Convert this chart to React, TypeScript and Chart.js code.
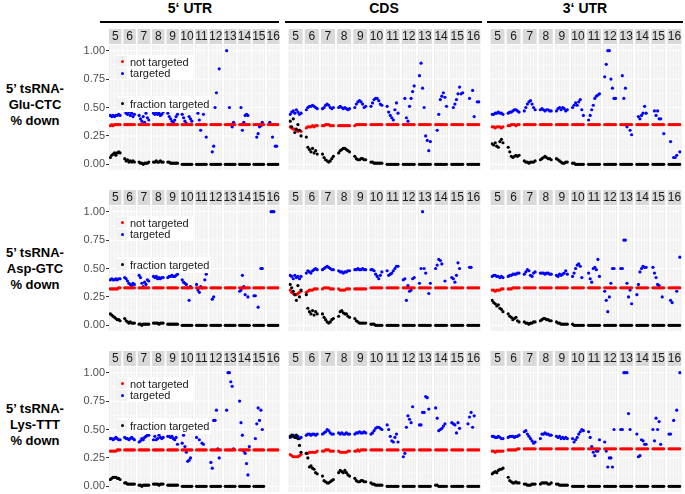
import React, { useEffect, useRef } from 'react';
import { Chart, registerables } from 'chart.js';
Chart.register(...registerables);

// ---------- labels ----------
const FACETS = ['5', '6', '7', '8', '9', '10', '11', '12', '13', '14', '15', '16'];
const COLUMN_TITLES = ['5\u2018 UTR', 'CDS', '3\u2018 UTR'];
const ROW_LABELS = [
  ['5\u2019 tsRNA-', 'Glu-CTC', '% down'],
  ['5\u2019 tsRNA-', 'Asp-GTC', '% down'],
  ['5\u2019 tsRNA-', 'Lys-TTT', '% down'],
];
const Y_TICKS = [0, 0.25, 0.5, 0.75, 1];
const Y_TICK_LABELS = ['0.00', '0.25', '0.50', '0.75', '1.00'];
const SERIES_NAMES = ['not targeted', 'targeted', 'fraction targeted'];

// ---------- data (8 values per facet, facets 5..16) ----------
type Series = (number | null)[];
const Z = null;

// Glu-CTC
const gluUtr5Not: Series = [
  .34,.35,.34,.35,.35,.35,.35,.35, .35,.35,.35,.35,.35,.35,.35,.35,
  .35,.35,.35,.35,.35,.35,.35,.35, .35,.35,.35,.35,.35,.35,.35,.35,
  .35,.35,.35,.35,.35,.35,.35,.35, .35,.35,.35,.35,.35,.35,.35,.35,
  .35,.35,.35,.35,.35,.35,.35,.35, .35,.35,.35,.35,.35,.35,.35,.35,
  .35,.35,.35,.35,.35,.35,.35,.35, .35,.35,.35,.35,.35,.35,.35,.35,
  .35,.35,.35,.35,.35,.35,.35,.35, .35,.35,.35,.35,.35,.35,.35,.35,
];
const gluUtr5Tgt: Series = [
  .43,.42,.43,.42,.43,.43,.44,.43,
  .47,.45,.44,.46,.43,.45,.42,.44,
  .43,.40,.38,.42,.37,.45,.41,.39,
  .45,.44,.46,.44,.45,.43,.44,.46,
  .45,.42,.40,.38,.37,.39,.42,.44,
  .44,.41,.38,.36,Z,.42,.40,.38,
  Z,.45,.39,.30,Z,.44,Z,.24,
  Z,.11,.16,.50,.63,Z,.84,Z,
  Z,1.00,Z,.50,Z,.33,.37,Z,
  Z,.50,.30,.37,.43,.44,.43,Z,
  Z,Z,.24,.27,.33,.34,.37,Z,
  Z,.37,Z,.24,Z,.16,.16,Z,
];
const gluUtr5Frac: Series = [
  .06,.08,.09,.10,.08,.10,.11,.10,
  .05,.03,.04,.02,.03,.02,.03,.02,
  .02,.01,.01,.00,.01,.01,.01,.02,
  .02,.02,.03,.02,.02,.03,.02,.02,
  .02,.02,.01,.01,.01,.01,.01,.01,
  0,0,0,0,0,0,0,0, 0,0,0,0,0,0,0,0, 0,0,0,0,0,0,0,0,
  0,0,0,0,0,0,0,0, 0,0,0,0,0,0,0,0, 0,0,0,0,0,0,0,0, 0,0,0,0,0,0,0,0,
];
const gluCdsNot: Series = [
  .33,.32,.31,.31,.30,.29,.30,.29,
  .32,.33,.33,.33,.34,.33,.34,.34,
  .34,.34,.35,.35,.35,.34,.34,.34,
  .34,.34,.34,.34,.34,.34,.34,.34,
  .34,.35,.35,.35,.35,.35,.35,.35,
  .35,.35,.35,.35,.35,.35,.35,.35, .35,.35,.35,.35,.35,.35,.35,.35,
  .35,.35,.35,.35,.35,.35,.35,.35, .35,.35,.35,.35,.35,.35,.35,.35,
  .35,.35,.35,.35,.35,.35,.35,.35, .35,.35,.35,.35,.35,.35,.35,.35,
  .35,.35,.35,.35,.35,.35,.35,.35,
];
const gluCdsTgt: Series = [
  .44,.46,.47,.45,.48,.46,.44,.45,
  .48,.50,.51,.51,.52,.51,.50,.49,
  .49,.50,.52,.53,.52,.50,.49,.50,
  .50,.51,.50,.49,.50,.49,.48,.49,
  .50,.53,.55,.56,.55,.53,.50,.51,
  .51,.54,.57,.58,.58,.56,.53,.52,
  .51,.46,.43,.41,.39,.48,.54,.45,
  Z,.58,.41,.38,.51,.58,.64,.69,
  .78,.89,.67,.50,.25,.21,.12,.20,
  Z,.30,.44,.57,.60,.63,.59,.51,
  Z,.50,.53,.57,.62,.68,.62,.63,
  Z,.58,Z,.65,.42,Z,.55,.55,
];
const gluCdsFrac: Series = [
  .38,.33,.40,.28,.31,.35,.30,.25,
  .24,.15,.13,.11,.14,.10,.12,.09,
  .09,.06,.04,.03,.02,.03,.05,.07,
  .10,.12,.13,.14,.14,.13,.12,.11,
  .07,.05,.04,.04,.05,.05,.04,.04,
  .02,.02,.01,.01,.01,.01,.01,.01,
  0,0,0,0,0,0,0,0, 0,0,0,0,0,0,0,0, 0,0,0,0,0,0,0,0,
  0,0,0,0,0,0,0,0, 0,0,0,0,0,0,0,0, 0,0,0,0,0,0,0,0,
];
const gluUtr3Not: Series = [
  .33,.33,.32,.33,.33,.33,.32,.33,
  .34,.34,.35,.35,.35,.34,.35,.35,
  .35,.35,.35,.35,.35,.35,.35,.35, .35,.35,.35,.35,.35,.35,.35,.35,
  .35,.35,.35,.35,.35,.35,.35,.35, .35,.35,.35,.35,.35,.35,.35,.35,
  .35,.35,.35,.35,.35,.35,.35,.35, .35,.35,.35,.35,.35,.35,.35,.35,
  .35,.35,.35,.35,.35,.35,.35,.35, .35,.35,.35,.35,.35,.35,.35,.35,
  .35,.35,.35,.35,.35,.35,.35,.35, .35,.35,.35,.35,.35,.35,.35,.35,
];
const gluUtr3Tgt: Series = [
  .44,.44,.45,.45,.46,.45,.45,.44,
  .45,.46,.46,.47,.48,.48,.47,.46,
  .47,.50,.53,.55,.56,.53,.50,.48,
  .48,.49,.48,.47,.48,.48,.47,.47,
  .47,.49,.50,.48,.50,.49,.47,.48,
  .50,.52,.54,.52,.55,.57,.48,.43,
  .39,.43,.48,.52,.58,.60,.61,.62,
  .77,.88,1.00,1.00,.75,.67,.58,.58,
  Z,.78,.58,.67,.33,Z,.30,.26,
  Z,.42,.40,.43,.45,.51,.45,Z,
  Z,.47,.43,.47,.40,.40,Z,.27,
  Z,.20,Z,.06,.06,.08,Z,.11,
];
const gluUtr3Frac: Series = [
  .18,.17,.19,.16,.15,.20,.22,.19,
  .15,.11,.07,.06,.07,.08,.07,.08,
  .03,.02,.02,.01,.02,.02,.02,.03,
  .04,.05,.06,.07,.06,.05,.05,.04,
  .05,.04,.03,.02,.01,.01,.02,.02,
  .01,.01,0,0,0,0,0,0,
  0,0,0,0,0,0,0,0, 0,0,0,0,0,0,0,0, 0,0,0,0,0,0,0,0,
  0,0,0,0,0,0,0,0, 0,0,0,0,0,0,0,0, 0,0,0,0,0,0,0,0,
];

// Asp-GTC
const aspUtr5Not: Series = [
  .32,.32,.32,.32,.32,.32,.33,.33,
  .33,.33,.33,.33,.33,.33,.33,.33, .33,.33,.33,.33,.33,.33,.33,.33,
  .33,.33,.33,.33,.33,.33,.33,.33, .33,.33,.33,.33,.33,.33,.33,.33,
  .33,.33,.33,.33,.33,.33,.33,.33, .33,.33,.33,.33,.33,.33,.33,.33,
  .33,.33,.33,.33,.33,.33,.33,.33, .33,.33,.33,.33,.33,.33,.33,.33,
  .33,.33,.33,.33,.33,.33,.33,.33, .33,.33,.33,.33,.33,.33,.33,.33,
  .33,.33,.33,.33,.33,.33,.33,.33,
];
const aspUtr5Tgt: Series = [
  .40,.41,.40,.40,.41,.40,.41,.41,
  .42,.41,.39,.37,.36,.35,.37,.36,
  .44,.42,.37,.34,.38,.36,.40,.39,
  .43,.42,.43,.41,.42,.41,.42,.42,
  .42,.43,.43,.44,.43,.43,.44,.45,
  .40,.38,.37,.36,.33,.22,.34,Z,
  .36,.31,.29,.34,.33,Z,.40,.45,
  Z,.23,.25,Z,Z,Z,Z,Z,
  Z,Z,Z,Z,Z,Z,Z,Z,
  .30,.31,.44,.34,.27,Z,.25,Z,
  .26,.26,Z,.16,Z,.50,.50,Z,
  Z,Z,1.00,1.00,1.00,Z,Z,Z,
];
const aspUtr5Frac: Series = [
  .10,.09,.08,.07,.06,.05,.05,.04,
  .06,.04,.03,.02,.03,.02,.02,.02,
  .01,.01,0,.01,.01,.01,.01,.01,
  .02,.02,.02,.02,.01,.02,.02,.02,
  .01,.01,.01,.01,.01,.01,.01,.01,
  0,0,0,0,0,0,0,0, 0,0,0,0,0,0,0,0, 0,0,0,0,0,0,0,0,
  0,0,0,0,0,0,0,0, 0,0,0,0,0,0,0,0, 0,0,0,0,0,0,0,0, 0,0,0,0,0,0,0,0,
];
const aspCdsNot: Series = [
  .31,.29,.28,.27,.27,.28,.29,.30,
  .29,.30,.31,.31,.31,.32,.32,.32,
  .32,.33,.33,.33,.33,.32,.32,.32,
  .32,.31,.31,.31,.31,.32,.32,.32,
  .32,.32,.32,.32,.32,.32,.32,.32,
  .33,.33,.33,.33,.33,.33,.33,.33, .33,.33,.33,.33,.33,.33,.33,.33,
  .33,.33,.33,.33,.33,.33,.33,.33, .33,.33,.33,.33,.33,.33,.33,.33,
  .33,.33,.33,.33,.33,.33,.33,.33, .33,.33,.33,.33,.33,.33,.33,.33,
  .33,.33,.33,.33,.33,.33,.33,.33,
];
const aspCdsTgt: Series = [
  .44,.43,.41,.44,.42,.43,.41,.43,
  .46,.48,.47,.46,.48,.49,.50,.49,
  .49,.50,.51,.52,.51,.50,.49,.49,
  .48,.47,.47,.46,.47,.47,.48,.48,
  .49,.49,.50,.49,.49,.50,.49,.49,
  .49,.49,.48,.45,.43,.41,.44,.47,
  .48,.44,.45,.46,.48,.50,.52,.52,
  .40,.41,.22,.35,.30,.31,.41,.42,
  .37,.50,1.00,.50,.46,Z,.28,.37,
  .50,.53,.58,.57,.54,Z,.39,Z,
  .42,.41,.38,.44,.55,.50,Z,Z,
  Z,.51,.51,Z,Z,Z,Z,Z,
];
const aspCdsFrac: Series = [
  .36,.33,.30,.27,.22,.35,.25,.31,
  .27,.15,.12,.10,.13,.09,.12,.10,
  .10,.07,.05,.03,.02,.03,.05,.06,
  .08,.12,.13,.11,.10,.10,.08,.07,
  .06,.04,.03,.02,.02,.02,.02,.02,
  .01,.01,.01,0,0,0,0,0,
  0,0,0,0,0,0,0,0, 0,0,0,0,0,0,0,0, 0,0,0,0,0,0,0,0,
  0,0,0,0,0,0,0,0, 0,0,0,0,0,0,0,0, 0,0,0,0,0,0,0,0,
];
const aspUtr3Not: Series = [
  .31,.31,.30,.31,.31,.31,.32,.32,
  .32,.32,.32,.33,.33,.33,.33,.33,
  .33,.33,.33,.33,.33,.33,.33,.33, .33,.33,.33,.33,.33,.33,.33,.33,
  .33,.33,.33,.33,.33,.33,.33,.33, .33,.33,.33,.33,.33,.33,.33,.33,
  .33,.33,.33,.33,.33,.33,.33,.33, .33,.33,.33,.33,.33,.33,.33,.33,
  .33,.33,.33,.33,.33,.33,.33,.33, .33,.33,.33,.33,.33,.33,.33,.33,
  .33,.33,.33,.33,.33,.33,.33,.33, .33,.33,.33,.33,.33,.33,.33,.33,
];
const aspUtr3Tgt: Series = [
  .43,.44,.44,.43,.43,.42,.43,.42,
  .43,.44,.44,.45,.45,.45,.46,.46,
  .45,.47,.49,.48,.44,.43,.46,.47,
  .46,.46,.46,.45,.46,.46,.45,.45,
  .44,.43,.45,.44,.45,.46,.48,.45,
  .43,.46,.50,.53,.54,.52,.42,Z,
  .46,.41,.38,.50,.51,.49,.58,.43,
  .30,.22,.12,.25,.37,.50,.50,Z,
  .50,.50,.75,.75,.37,.25,.31,.19,
  .27,.36,.47,.50,.52,.51,.51,Z,
  .51,.46,.42,.36,.35,Z,.25,Z,
  Z,.22,.20,Z,Z,.30,Z,.60,
];
const aspUtr3Frac: Series = [
  .22,.20,.19,.17,.18,.15,.14,.12,
  .10,.08,.07,.05,.06,.07,.04,.03,
  .03,.02,.02,.01,.02,.02,.03,.03,
  .04,.05,.06,.06,.05,.05,.04,.04,
  .03,.02,.02,.01,.01,.01,.01,.01,
  .01,0,0,0,0,0,0,0,
  0,0,0,0,0,0,0,0, 0,0,0,0,0,0,0,0, 0,0,0,0,0,0,0,0,
  0,0,0,0,0,0,0,0, 0,0,0,0,0,0,0,0, 0,0,0,0,0,0,0,0,
];

// Lys-TTT
const lysUtr5Not: Series = [
  .31,.31,.31,.31,.31,.32,.32,.32,
  .32,.32,.32,.32,.32,.32,.32,.32, .32,.32,.32,.32,.32,.32,.32,.32,
  .32,.32,.32,.32,.32,.32,.32,.32, .32,.32,.32,.32,.32,.32,.32,.32,
  .32,.32,.32,.32,.32,.32,.32,.32, .32,.32,.32,.32,.32,.32,.32,.32,
  .32,.32,.32,.32,.32,.32,.32,.32, .32,.32,.32,.32,.32,.32,.32,.32,
  .32,.32,.32,.32,.32,.32,.32,.32, .32,.32,.32,.32,.32,.32,.32,.32,
  .32,.32,.32,.32,.32,.32,.32,.32,
];
const lysUtr5Tgt: Series = [
  .42,.42,.41,.42,.43,.42,.41,.41,
  .43,.42,.42,.41,.42,.43,.42,.41,
  .39,.40,.42,.41,.43,.44,.45,.45,
  .41,.44,.41,.42,.45,.43,.42,.43,
  .44,.44,.43,.44,.42,.41,.43,.37,
  .38,.45,.35,.30,.22,.23,.25,Z,
  .43,Z,.41,Z,.38,.37,Z,Z,
  .21,.16,.58,.58,.67,.33,.25,Z,
  Z,.67,1.00,1.00,.92,.88,.33,Z,
  .75,.56,.45,.31,.29,.20,.10,.35,
  Z,.42,.55,.69,.58,.67,.50,Z,
  Z,Z,Z,Z,Z,Z,Z,Z,
];
const lysUtr5Frac: Series = [
  .06,.07,.08,.08,.08,.07,.07,.06,
  .03,.03,.02,.02,.02,.02,.02,.02,
  .01,.01,0,.01,.01,.01,.01,.01,
  .02,.02,.02,.02,.01,.02,.02,.02,
  .01,.01,.01,.01,.01,.01,.01,.01,
  0,0,0,0,0,0,0,0, 0,0,0,0,0,0,0,0, 0,0,0,0,0,0,0,0,
  0,0,0,0,0,0,0,0, 0,0,0,0,0,0,0,0, 0,0,0,0,0,0,0,0,
  Z,Z,Z,Z,Z,Z,Z,Z,
];
const lysCdsNot: Series = [
  .28,.27,.26,.26,.26,.26,.27,.28,
  .29,.29,.30,.30,.30,.30,.30,.31,
  .31,.31,.32,.32,.32,.31,.31,.31,
  .31,.30,.30,.30,.30,.30,.31,.31,
  .31,.31,.32,.31,.32,.32,.32,.32,
  .32,.32,.32,.32,.32,.32,.32,.32, .32,.32,.32,.32,.32,.32,.32,.32,
  .32,.32,.32,.32,.32,.32,.32,.32, .32,.32,.32,.32,.32,.32,.32,.32,
  .32,.32,.32,.32,.32,.32,.32,.32, .32,.32,.32,.32,.32,.32,.32,.32,
  .32,.32,.32,.32,.32,.32,.32,.32,
];
const lysCdsTgt: Series = [
  .43,.44,.45,.44,.43,.44,.42,.43,
  .45,.46,.46,.45,.46,.46,.45,.46,
  .46,.47,.48,.50,.49,.47,.46,.46,
  .47,.46,.47,.46,.46,.47,.46,.46,
  .46,.47,.47,.48,.47,.47,.48,.47,
  .46,.47,.49,.51,.52,.52,.51,.50,
  .54,.50,.44,.40,.39,.43,.46,.39,
  .26,.29,.52,.62,.59,.56,.70,Z,
  .54,.54,.65,.65,.79,.78,.68,Z,
  .69,.60,.49,.50,.51,.53,.55,Z,
  .56,.55,.54,.47,.56,.51,Z,Z,
  .55,.61,.65,.52,.62,Z,Z,Z,
];
const lysCdsFrac: Series = [
  .44,.45,.44,.43,.45,.42,.36,.30,
  .29,.25,.17,.18,.16,.15,.12,.11,
  .09,.05,.04,.03,.03,.04,.05,.06,
  .12,.14,.13,.12,.14,.12,.10,.09,
  .07,.05,.04,.04,.05,.05,.04,.04,
  .03,.02,.02,.01,.01,.01,.01,.01,
  0,0,0,0,0,0,0,0, 0,0,0,0,0,0,0,0, 0,0,0,0,0,0,0,0,
  .01,.01,0,0,0,0,0,0, 0,0,0,0,0,0,0,0, 0,0,0,0,0,0,0,0,
];
const lysUtr3Not: Series = [
  .31,.31,.30,.31,.31,.31,.31,.31,
  .32,.32,.32,.32,.32,.32,.33,.33,
  .33,.33,.33,.33,.33,.33,.33,.33, .33,.33,.33,.33,.33,.33,.33,.33,
  .33,.33,.33,.33,.33,.33,.33,.33, .33,.33,.33,.33,.33,.33,.33,.33,
  .33,.33,.33,.33,.33,.33,.33,.33, .33,.33,.33,.33,.33,.33,.33,.33,
  .33,.33,.33,.33,.33,.33,.33,.33, .33,.33,.33,.33,.33,.33,.33,.33,
  .33,.33,.33,.33,.33,.33,.33,.33, .33,.33,.33,.33,.33,.33,.33,.33,
];
const lysUtr3Tgt: Series = [
  .44,.44,.43,.43,.44,.43,.42,.42,
  .43,.44,.44,.44,.43,.44,.44,.45,
  .48,.49,.46,.44,.42,.40,.38,.39,
  .42,.46,.46,.47,.46,.46,.45,.45,
  .44,.43,.44,.42,.43,.42,.43,.42,
  .42,.39,.41,.43,.46,.48,.50,.49,
  .48,.43,.35,.30,.27,.31,.31,.41,
  .39,.31,.17,.25,.25,.17,.50,Z,
  .50,.50,1.00,1.00,1.00,.64,.50,Z,
  .46,.26,.27,.41,.40,.37,.37,Z,
  .50,.40,.60,.50,.57,.37,Z,Z,
  .46,.46,Z,.58,Z,.67,Z,1.00,
];
const lysUtr3Frac: Series = [
  .11,.12,.13,.12,.14,.15,.15,.16,
  .08,.05,.04,.03,.03,.04,.03,.03,
  .02,.02,.01,.01,.01,.02,.02,.02,
  .02,.03,.03,.03,.03,.02,.02,.03,
  .02,.02,.01,.01,.01,.01,.01,.01,
  0,0,0,0,0,0,0,0, 0,0,0,0,0,0,0,0, 0,0,0,0,0,0,0,0,
  0,0,0,0,0,0,0,0, 0,0,0,0,0,0,0,0, 0,0,0,0,0,0,0,0, 0,0,0,0,0,0,0,0,
];

interface PanelSpec { notTargeted: Series; targeted: Series; fraction: Series }
const PANELS: PanelSpec[][] = [
  [
    { notTargeted: gluUtr5Not, targeted: gluUtr5Tgt, fraction: gluUtr5Frac },
    { notTargeted: gluCdsNot, targeted: gluCdsTgt, fraction: gluCdsFrac },
    { notTargeted: gluUtr3Not, targeted: gluUtr3Tgt, fraction: gluUtr3Frac },
  ],
  [
    { notTargeted: aspUtr5Not, targeted: aspUtr5Tgt, fraction: aspUtr5Frac },
    { notTargeted: aspCdsNot, targeted: aspCdsTgt, fraction: aspCdsFrac },
    { notTargeted: aspUtr3Not, targeted: aspUtr3Tgt, fraction: aspUtr3Frac },
  ],
  [
    { notTargeted: lysUtr5Not, targeted: lysUtr5Tgt, fraction: lysUtr5Frac },
    { notTargeted: lysCdsNot, targeted: lysCdsTgt, fraction: lysCdsFrac },
    { notTargeted: lysUtr3Not, targeted: lysUtr3Tgt, fraction: lysUtr3Frac },
  ],
];

// ---------- layout ----------
const PER_FACET = 8;
const FACET_W = 9;
const FACET_STEP = 10.4;
const X_MAX = (FACETS.length - 1) * FACET_STEP + FACET_W;
const STRIP_H = 16;
const PANEL_H = 125;
const BOTTOM_PAD = 8;
const ROW_TOPS = [45, 206, 367];
const COL_GEOM = [
  { left: 40, width: 241, axis: 69 },
  { left: 287, width: 195, axis: 0 },
  { left: 489, width: 194, axis: 0 },
];
const FONT = '"Liberation Sans", Arial, Helvetica, sans-serif';

function toPoints(values: Series) {
  const pts: { x: number; y: number }[] = [];
  values.forEach((v, k) => {
    if (v === null || v === undefined) return;
    const f = Math.floor(k / PER_FACET);
    const j = k % PER_FACET;
    pts.push({ x: f * FACET_STEP + 1 + j, y: v });
  });
  return pts;
}

const facetPlugin = {
  id: 'facetPanels',
  beforeDraw(chart: any) {
    const { ctx, chartArea } = chart;
    const xs = chart.scales.x;
    const ys = chart.scales.y;
    ctx.save();
    FACETS.forEach((label, i) => {
      const x0 = xs.getPixelForValue(i * FACET_STEP);
      const x1 = xs.getPixelForValue(i * FACET_STEP + FACET_W);
      ctx.fillStyle = '#EBEBEB';
      ctx.fillRect(x0, chartArea.top, x1 - x0, chartArea.bottom - chartArea.top);
      ctx.strokeStyle = '#FFFFFF';
      ctx.lineWidth = 0.5;
      [0.125, 0.375, 0.625, 0.875].forEach((v) => {
        const y = ys.getPixelForValue(v);
        ctx.beginPath(); ctx.moveTo(x0, y); ctx.lineTo(x1, y); ctx.stroke();
      });
      ctx.lineWidth = 1;
      Y_TICKS.forEach((v) => {
        const y = ys.getPixelForValue(v);
        ctx.beginPath(); ctx.moveTo(x0, y); ctx.lineTo(x1, y); ctx.stroke();
      });
      ctx.lineWidth = 0.7;
      for (let k = 1; k <= PER_FACET; k++) {
        const x = xs.getPixelForValue(i * FACET_STEP + k);
        ctx.beginPath(); ctx.moveTo(x, chartArea.top); ctx.lineTo(x, chartArea.bottom); ctx.stroke();
      }
      ctx.fillStyle = '#D9D9D9';
      ctx.fillRect(x0, chartArea.top - STRIP_H, x1 - x0, STRIP_H - 1);
      ctx.fillStyle = '#1A1A1A';
      ctx.font = '12px ' + FONT;
      ctx.textAlign = 'center';
      ctx.textBaseline = 'middle';
      ctx.fillText(label, (x0 + x1) / 2, chartArea.top - STRIP_H / 2);
    });
    ctx.restore();
  },
};

function Panel({ spec, row, col }: { spec: PanelSpec; row: number; col: number }) {
  const ref = useRef<HTMLCanvasElement>(null);
  const geo = COL_GEOM[col];
  const height = STRIP_H + PANEL_H + BOTTOM_PAD;
  useEffect(() => {
    const common = { pointRadius: 1.6, pointBorderWidth: 0, pointHoverRadius: 1.6 };
    const chart = new Chart(ref.current as HTMLCanvasElement, {
      type: 'scatter',
      data: {
        datasets: [
          { label: SERIES_NAMES[2], data: toPoints(spec.fraction), backgroundColor: '#000000', borderColor: '#000000', order: 0, ...common },
          { label: SERIES_NAMES[0], data: toPoints(spec.notTargeted), backgroundColor: '#FF0000', borderColor: '#FF0000', order: 1, ...common },
          { label: SERIES_NAMES[1], data: toPoints(spec.targeted), backgroundColor: '#0000FF', borderColor: '#0000FF', order: 2, ...common },
        ],
      },
      options: {
        responsive: false,
        animation: false,
        events: [],
        devicePixelRatio: 1,
        layout: { padding: { top: STRIP_H, bottom: BOTTOM_PAD, left: 0, right: 0 } },
        plugins: { legend: { display: false }, tooltip: { enabled: false } },
        scales: {
          x: { type: 'linear', min: 0, max: X_MAX, display: false },
          y: {
            type: 'linear',
            min: -0.05,
            max: 1.05,
            display: geo.axis > 0,
            afterBuildTicks: (s: any) => { s.ticks = Y_TICKS.map((v) => ({ value: v })); },
            afterFit: (s: any) => { s.width = geo.axis; },
            ticks: {
              autoSkip: false,
              padding: 1,
              color: '#4D4D4D',
              font: { family: FONT, size: 11 },
              callback: (_v: any, i: number) => Y_TICK_LABELS[i],
            },
            grid: { drawOnChartArea: false, drawTicks: true, tickLength: 3, tickColor: '#333333', tickWidth: 1 },
            border: { display: false },
          },
        },
      },
      plugins: [facetPlugin],
    } as any);
    return () => chart.destroy();
  }, []);
  return (
    <canvas
      ref={ref}
      width={geo.width}
      height={height}
      style={{ position: 'absolute', left: geo.left, top: ROW_TOPS[row] - STRIP_H, width: geo.width, height }}
    />
  );
}

function Dot({ x, y, color }: { x: number; y: number; color: string }) {
  return <div style={{ position: 'absolute', left: x - 1.5, top: y - 1.5, width: 3, height: 3, borderRadius: '50%', background: color }} />;
}

function Legend({ row }: { row: number }) {
  const y1 = ROW_TOPS[row] + (PANEL_H * 0.05) / 1.1;
  const text = (label: string, cy: number) => (
    <div style={{ position: 'absolute', left: 130, top: cy - 7, height: 14, lineHeight: '14px', fontSize: 11, color: '#1A1A1A', whiteSpace: 'nowrap' }}>{label}</div>
  );
  return (
    <>
      <div style={{ position: 'absolute', left: 117, top: y1 + 4, width: 76, height: 25, background: '#FFFFFF' }} />
      <div style={{ position: 'absolute', left: 117, top: y1 + 5, width: 10, height: 11, background: '#F2F2F2' }} />
      <div style={{ position: 'absolute', left: 117, top: y1 + 17, width: 10, height: 11, background: '#F2F2F2' }} />
      <Dot x={122} y={y1 + 11} color="#FF0000" />
      <Dot x={122} y={y1 + 22.5} color="#0000FF" />
      {text(SERIES_NAMES[0], y1 + 11)}
      {text(SERIES_NAMES[1], y1 + 22.5)}
      <div style={{ position: 'absolute', left: 117, top: y1 + 45, width: 94, height: 16, background: '#FFFFFF' }} />
      <div style={{ position: 'absolute', left: 117, top: y1 + 47, width: 10, height: 12, background: '#F2F2F2' }} />
      <Dot x={122} y={y1 + 53} color="#000000" />
      {text(SERIES_NAMES[2], y1 + 53)}
    </>
  );
}

const TITLE_CENTERS = [190, 384, 585];
const TITLE_LINES = [
  [100, 279],
  [285, 482],
  [487, 683],
];
const ROW_LABEL_TOPS = [81, 245, 401];

export default function App() {
  return (
    <div style={{ position: 'absolute', left: 0, top: 0, width: 685, height: 494, overflow: 'hidden', background: '#FFFFFF', fontFamily: FONT }}>
      {COLUMN_TITLES.map((t, i) => (
        <React.Fragment key={t}>
          <div style={{ position: 'absolute', left: TITLE_CENTERS[i] - 60, width: 120, top: 0, height: 17, lineHeight: '17px', textAlign: 'center', fontWeight: 'bold', fontSize: 14, color: '#000' }}>{t}</div>
          <div style={{ position: 'absolute', left: TITLE_LINES[i][0], width: TITLE_LINES[i][1] - TITLE_LINES[i][0], top: 21, height: 1.5, background: '#000' }} />
        </React.Fragment>
      ))}
      {ROW_LABELS.map((lines, r) => (
        <div key={r} style={{ position: 'absolute', left: 0, width: 70, top: ROW_LABEL_TOPS[r], textAlign: 'center', fontWeight: 'bold', fontSize: 13, lineHeight: '16px', color: '#000' }}>
          {lines.map((l) => (<div key={l}>{l}</div>))}
        </div>
      ))}
      {PANELS.map((rowSpecs, r) => rowSpecs.map((spec, c) => <Panel key={r + '-' + c} spec={spec} row={r} col={c} />))}
      {[0, 1, 2].map((r) => <Legend key={r} row={r} />)}
    </div>
  );
}
